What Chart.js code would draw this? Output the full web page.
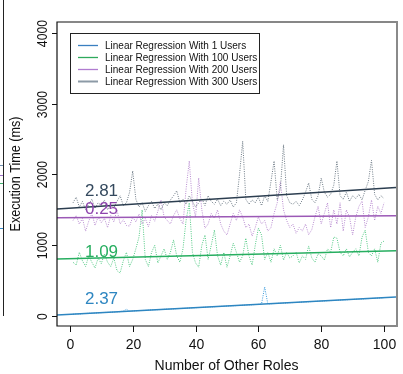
<!DOCTYPE html>
<html>
<head>
<meta charset="utf-8">
<script src="https://cdn.jsdelivr.net/npm/chart.js@4"></script>
<style>
  body { margin: 0; background: #fff; }
  #myChart { display: block; }
</style>
</head>
<body>
<canvas id="myChart" width="403" height="374"></canvas>
<script>
// number of other roles (x)
const roles = [];
for (let i = 1; i <= 100; i++) roles.push(i);

const xTicks = [0, 20, 40, 60, 80, 100];
const yTicks = [0, 1000, 2000, 3000, 4000];

const seriesNames = ['Linear Regression With 1 Users', 'Linear Regression With 100 Users',
                     'Linear Regression With 200 Users', 'Linear Regression With 300 Users'];

// raw execution times (ms)
const users1 = [25, 30, 28, 34, 36, 38, 40, 42, 45, 47,
                50, 52, 54, 55, 58, 62, 70, 95, 68, 72,
                74, 76, 78, 80, 84, 86, 88, 90, 92, 95,
                97, 99, 101, 104, 106, 108, 110, 113, 115, 118,
                120, 122, 124, 127, 129, 131, 134, 136, 138, 141,
                143, 145, 148, 150, 152, 155, 157, 159, 162, 164,
                170, 410, 172, 174, 176, 178, 181, 183, 185, 188,
                190, 192, 195, 197, 199, 202, 204, 206, 209, 211,
                213, 216, 218, 220, 223, 225, 227, 230, 232, 234,
                237, 239, 241, 244, 246, 248, 251, 253, 255, 258];
const users100 = [760, 720, 900, 780, 700, 850, 760, 680, 820, 740,
                  880, 760, 700, 820, 640, 608, 780, 900, 700, 800,
                  950, 1116, 1500, 800, 700, 900, 1000, 750, 850, 950,
                  800, 900, 1075, 850, 760, 950, 1356, 1600, 900, 750,
                  690, 1000, 1145, 800, 1000, 1215, 850, 720, 900, 690,
                  850, 1030, 900, 760, 850, 1100, 850, 720, 1000, 1243,
                  1145, 800, 900, 760, 950, 850, 1000, 790, 900, 820,
                  850, 900, 750, 850, 800, 990, 820, 760, 880, 850,
                  790, 950, 900, 1116, 1100, 900, 850, 950, 835, 900,
                  950, 850, 1116, 1215, 900, 850, 950, 760, 1030, 1060];
const users200 = [1350, 1420, 1300, 1380, 1200, 1340, 1450, 1280, 1400, 1320,
                  1380, 1250, 1420, 1330, 1500, 1300, 1360, 1280, 1270, 1400,
                  1330, 1440, 1300, 1380, 1260, 1420, 1340, 1480, 1640, 1400,
                  1350, 1300, 1420, 1500, 1380, 1300, 1800, 2190, 1600, 1400,
                  1950, 1500, 1240, 1300, 1450, 1380, 1500, 1300, 1200, 1145,
                  1300, 1450, 1350, 1500, 1400, 1250, 1300, 1130, 1250, 1400,
                  1300, 1350, 1200, 1250, 1450, 1600, 1900, 1500, 1350, 1250,
                  1300, 1170, 1250, 1200, 1300, 1150, 1220, 1400, 1550, 1300,
                  1450, 1600, 1250, 1500, 1300, 1600, 1200, 1500, 1400, 1145,
                  1400, 1550, 1625, 1250, 1400, 1640, 1350, 1550, 1450, 1600];
const users300 = [1600, 1680, 1540, 1620, 1500, 1580, 1650, 1520, 1600, 1560,
                  1640, 1500, 1580, 1530, 1620, 1700, 1560, 1600, 1750, 2050,
                  1650, 1540, 1600, 1480, 1560, 1620, 1520, 1580, 1500, 1600,
                  1560, 1640, 1700, 1770, 1600, 1650, 1580, 1700, 1620, 1540,
                  1600, 1660, 1560, 1700, 1620, 1580, 1650, 1560, 1620, 1580,
                  1640, 1540, 1600, 2000, 2470, 1650, 1580, 1640, 1600, 1680,
                  1560, 1700, 1620, 1900, 2190, 1640, 1800, 2420, 1700, 1600,
                  1580, 1620, 1560, 1640, 1750, 1880, 1650, 1600, 1700, 1950,
                  1750, 1680, 1720, 1850, 2190, 1700, 1650, 1750, 1620, 1700,
                  1660, 1720, 1640, 1780, 1900, 2200, 1720, 1640, 1700, 1660];

// fitted lines: intercept + slope * x
const slopes = [2.37, 1.09, 0.25, 2.81];
const intercepts = [24, 810, 1390, 1525];
const slopeLabels = ['2.37', '1.09', '0.25', '2.81'];

const xMin = -4.1, xMax = 103.8;
const yMin = -141, yMax = 4155;

const lineColors = ['#2e86c1', '#27ae60', '#9b59b6', '#2c3e50'];
const dotColors = ['#3498db', '#52c983', '#b88bd0', '#6e7b86'];
const legendColors = ['#3a7fc0', '#2eaa5c', '#b07cd0', '#8c9aa6'];
const rawSeries = [users1, users100, users200, users300];

const datasets = [];
rawSeries.forEach((vals, i) => {
    datasets.push({
        data: vals.map((v, j) => ({x: roles[j], y: v})),
        borderColor: dotColors[i],
        borderWidth: 1,
        borderDash: [1, 1.3],
        pointRadius: 0,
        order: 10 - i
    });
});
slopes.forEach((b, i) => {
    datasets.push({
        data: [{x: xMin, y: intercepts[i] + b * xMin}, {x: xMax, y: intercepts[i] + b * xMax}],
        borderColor: lineColors[i],
        borderWidth: 1.5,
        pointRadius: 0,
        order: 4 - i
    });
});

const FONT = '"Liberation Sans", Arial, sans-serif';

const decor = {
    id: 'decor',
    afterDraw(chart) {
        const ctx = chart.ctx;
        const a = chart.chartArea;
        const xs = chart.scales.x, ys = chart.scales.y;
        ctx.save();

        // fragment of the neighbouring panel on the left
        ctx.strokeStyle = '#222';
        ctx.lineWidth = 1;
        ctx.beginPath();
        ctx.moveTo(3.5, 0); ctx.lineTo(3.5, 316);
        ctx.stroke();
        [['#6f8fb0', 165], ['#a070c8', 175], ['#40b070', 183], ['#3a8ac8', 228]].forEach(t => {
            ctx.strokeStyle = t[0];
            ctx.beginPath(); ctx.moveTo(0, t[1] + 0.5); ctx.lineTo(3, t[1] + 0.5); ctx.stroke();
        });

        // plot frame
        ctx.strokeStyle = '#111';
        ctx.lineWidth = 1.2;
        ctx.beginPath();
        ctx.moveTo(a.right, a.top); ctx.lineTo(a.left, a.top);
        ctx.lineTo(a.left, a.bottom); ctx.lineTo(a.right, a.bottom);
        ctx.stroke();
        ctx.strokeStyle = '#8a8a8a';
        ctx.lineWidth = 2;
        ctx.beginPath(); ctx.moveTo(a.right + 1, a.top - 1); ctx.lineTo(a.right + 1, a.bottom + 1); ctx.stroke();

        // y axis ticks and labels (rotated like R's las=0)
        ctx.strokeStyle = '#111';
        ctx.lineWidth = 1;
        ctx.fillStyle = '#111';
        ctx.font = '14px ' + FONT;
        ctx.textAlign = 'center';
        ctx.textBaseline = 'middle';
        yTicks.forEach(v => {
            const py = Math.round(ys.getPixelForValue(v)) + 0.5;
            ctx.beginPath(); ctx.moveTo(a.left - 5, py); ctx.lineTo(a.left, py); ctx.stroke();
            ctx.save();
            ctx.translate(43, py);
            ctx.rotate(-Math.PI / 2);
            ctx.scale(0.88, 1);
            ctx.fillText(String(v), 0, 0);
            ctx.restore();
        });

        // x axis ticks and labels
        xTicks.forEach(v => {
            const px = Math.round(xs.getPixelForValue(v)) + 0.5;
            ctx.beginPath(); ctx.moveTo(px, a.bottom); ctx.lineTo(px, a.bottom + 6); ctx.stroke();
            ctx.fillText(String(v), px, 345);
        });

        // axis titles
        ctx.fillText('Number of Other Roles', (a.left + a.right) / 2, 366);
        ctx.save();
        ctx.translate(16, (a.top + a.bottom) / 2);
        ctx.rotate(-Math.PI / 2);
        ctx.scale(0.9, 1);
        ctx.fillText('Execution Time (ms)', 0, 0);
        ctx.restore();

        // slope annotations
        ctx.font = '17px ' + FONT;
        ctx.textAlign = 'left';
        const annY = [240, 904, 1512, 1766];
        const annColors = ['#2e86c1', '#27ae60', '#8e44ad', '#34495e'];
        slopeLabels.forEach((s, i) => {
            ctx.fillStyle = annColors[i];
            ctx.fillText(s, xs.getPixelForValue(4.8), ys.getPixelForValue(annY[i]));
        });

        // legend box
        ctx.fillStyle = '#fff';
        ctx.fillRect(70, 33, 189, 60);
        ctx.strokeStyle = '#222';
        ctx.lineWidth = 1;
        ctx.strokeRect(70.5, 33.5, 189, 60);
        ctx.font = '10px ' + FONT;
        ctx.fillStyle = '#111';
        const rows = [45, 57, 69, 81];
        seriesNames.forEach((n, i) => {
            ctx.strokeStyle = legendColors[i];
            ctx.lineWidth = i === 3 ? 2 : 1.3;
            ctx.beginPath(); ctx.moveTo(78, rows[i] + 0.5); ctx.lineTo(98, rows[i] + 0.5); ctx.stroke();
            ctx.fillStyle = '#111';
            ctx.fillText(n, 105, rows[i] + 1);
        });
        ctx.restore();
    }
};

const config = {
    type: 'line',
    data: { datasets: datasets },
    options: {
        responsive: false,
        animation: false,
        layout: { padding: { left: 57, top: 22, right: 7, bottom: 48 } },
        plugins: { legend: { display: false }, tooltip: { enabled: false } },
        scales: {
            x: { type: 'linear', min: xMin, max: xMax, display: false },
            y: { type: 'linear', min: yMin, max: yMax, display: false }
        }
    },
    plugins: [decor]
};

var myChart = new Chart(document.getElementById('myChart'), config);
</script>
</body>
</html>
